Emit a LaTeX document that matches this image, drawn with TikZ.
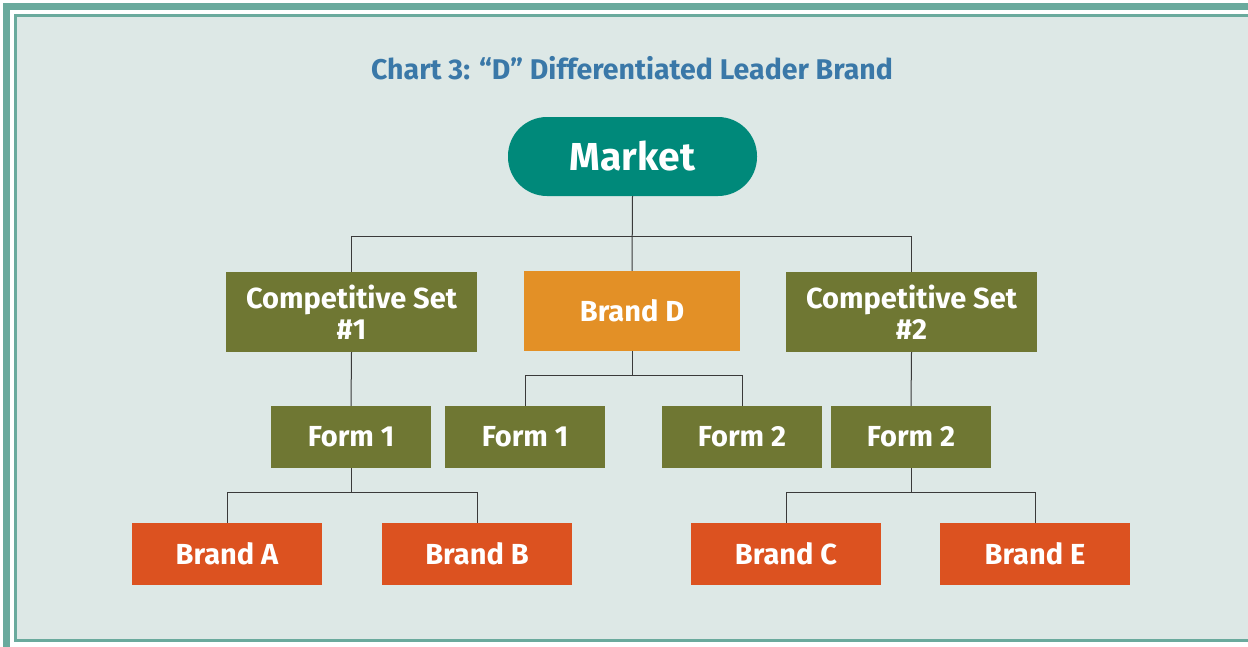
\documentclass[tikz,border=0pt]{standalone}
\usepackage{fontspec}
\setmainfont{Fira Sans}
\usetikzlibrary{positioning}

\definecolor{panel}{HTML}{DDE8E6}
\definecolor{frameteal}{HTML}{6AAA9D}
\definecolor{titleblue}{HTML}{3A78A8}
\definecolor{marketteal}{HTML}{00897A}
\definecolor{olive}{HTML}{6F7733}
\definecolor{leadorange}{HTML}{E39026}
\definecolor{brandred}{HTML}{DC5220}
\definecolor{wire}{HTML}{3A3A3A}

\begin{document}
\begin{tikzpicture}[
  x=1pt, y=-1pt,
  box/.style={rectangle, inner sep=0pt, text=white, align=center,
    font=\bfseries\fontsize{29}{31}\selectfont},
  setbox/.style={box, fill=olive, minimum width=251pt, minimum height=80pt},
  formbox/.style={box, fill=olive, minimum width=160pt, minimum height=62pt},
  brandbox/.style={box, fill=brandred, minimum width=190pt, minimum height=62pt},
  link/.style={draw=wire, line width=1pt}
]
\useasboundingbox (0,0) rectangle (1248,646);
\clip (0,0) rectangle (1248,646);

% frame
\fill[white] (0,0) rectangle (1248,646);
\fill[frameteal] (3,3) rectangle (1300,700);
\fill[white] (9.5,9.5) rectangle (1300,700);
\fill[frameteal] (13.5,14) rectangle (1300,641.5);
\fill[panel] (16.5,17) rectangle (1300,638.5);

\node[text=titleblue, font=\bfseries\fontsize{28.5}{32}\selectfont] (title) at (632,68) {Chart 3: “D” Differentiated Leader Brand};

% top level
\node[box, fill=marketteal, minimum width=249pt, minimum height=79pt, rounded corners=39pt,
  font=\bfseries\fontsize{39}{44}\selectfont] (market) at (632.5,156.5) {Market};

\node[setbox] (set1) at (351.5,312) {Competitive Set\\\#1};
\node[box, fill=leadorange, minimum width=216pt, minimum height=80pt] (brandD) at (632,311) {Brand D};
\node[setbox] (set2) at (911.5,312) {Competitive Set\\\#2};

\node[formbox] (form1a) at (351,437) {Form 1};
\node[formbox] (form1b) at (525,437) {Form 1};
\node[formbox] (form2a) at (742,437) {Form 2};
\node[formbox] (form2b) at (911,437) {Form 2};

\node[brandbox] (brandA) at (227,554) {Brand A};
\node[brandbox] (brandB) at (477,554) {Brand B};
\node[brandbox] (brandC) at (786,554) {Brand C};
\node[brandbox] (brandE) at (1035,554) {Brand E};

% connectors
\draw[link] (market.south) -- (brandD.north);
\draw[link] (set1.north) -- ++(0,-35) -| (set2.north);
\draw[link] (set1.south) -- (form1a.north);
\draw[link] (set2.south) -- (form2b.north);
\draw[link] (brandD.south) -- ++(0,25);
\draw[link] (form1b.north) -- ++(0,-30) -| (form2a.north);
\draw[link] (form1a.south) -- ++(0,25);
\draw[link] (brandA.north) -- ++(0,-30) -| (brandB.north);
\draw[link] (form2b.south) -- ++(0,25);
\draw[link] (brandC.north) -- ++(0,-30) -| (brandE.north);
\end{tikzpicture}
\end{document}
